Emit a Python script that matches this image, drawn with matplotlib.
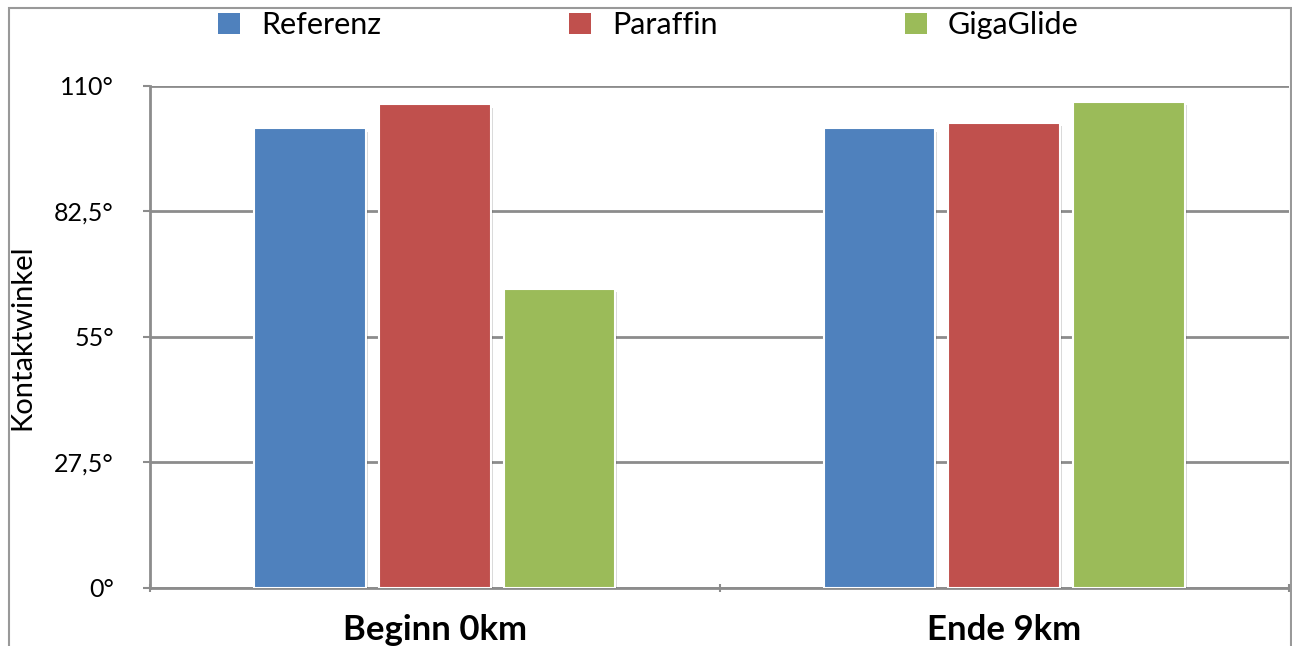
import matplotlib.pyplot as plt
import matplotlib.patheffects as pe
from matplotlib.patches import Rectangle
import numpy as np

plt.rcParams['font.family'] = ['Lato', 'DejaVu Sans']

categories = ['Beginn 0km', 'Ende 9km']
series = ['Referenz', 'Paraffin', 'GigaGlide']
values = {
    'Referenz': [100.7, 100.7],
    'Paraffin': [106.0, 101.9],
    'GigaGlide': [65.6, 106.5],
}
colors = ['#4f81bd', '#c0504d', '#9bbb59']
yticks = [0, 27.5, 55, 82.5, 110]
yticklabels = ['0°', '27,5°', '55°', '82,5°', '110°']

fig = plt.figure(figsize=(12.92, 6.46), dpi=100)
ax = fig.add_axes([0.1161, 0.0898, 0.8816, 0.7771])

x = np.arange(len(categories))
width = 0.196
step = 0.219
shadow = [pe.SimplePatchShadow(offset=(1.5, -2.5), shadow_rgbFace='#000000', alpha=0.15), pe.Normal()]
for i, name in enumerate(series):
    bars = ax.bar(x + (i - 1) * step, values[name], width, color=colors[i],
                  edgecolor='white', linewidth=1.5, zorder=3)
    for b in bars:
        b.set_path_effects(shadow)

ax.set_xlim(-0.5, 1.5)
ax.set_ylim(0, 110)
ax.set_yticks(yticks)
ax.set_yticklabels(yticklabels, fontsize=18)
ax.set_xticks(x)
ax.set_xticklabels(categories, fontsize=25, fontweight='bold')
ax.tick_params(axis='x', length=0, pad=19)
ax.set_xticks([-0.5, 0.5, 1.5], minor=True)
ax.tick_params(axis='x', which='minor', length=6, color='#8c8c8c', width=1.5, direction='inout')
ax.tick_params(axis='y', length=5, color='#8c8c8c', width=1.5, pad=21)
ax.yaxis.grid(True, color='#8c8c8c', linewidth=2, zorder=0)
ax.set_axisbelow(True)
for s in ['top', 'right']:
    ax.spines[s].set_visible(False)
for s in ['left', 'bottom']:
    ax.spines[s].set_color('#8c8c8c')
    ax.spines[s].set_linewidth(2)
ax.set_ylabel('Kontaktwinkel', fontsize=21)
ax.yaxis.set_label_coords(-0.101, 0.5)

handles = [Rectangle((0, 0), 1, 1, facecolor=c, edgecolor='none') for c in colors]
fig.legend(handles=handles, labels=series, loc='center', bbox_to_anchor=(0.502, 0.961),
           ncol=3, frameon=False, fontsize=22, handlelength=0.7, handleheight=0.7,
           handletextpad=0.7, columnspacing=6.15)

fig.patches.append(Rectangle((0.007, -0.02), 0.992, 1.008, transform=fig.transFigure,
                             fill=False, edgecolor='#999999', linewidth=1.5))

fig.savefig('out.png', dpi=100)
